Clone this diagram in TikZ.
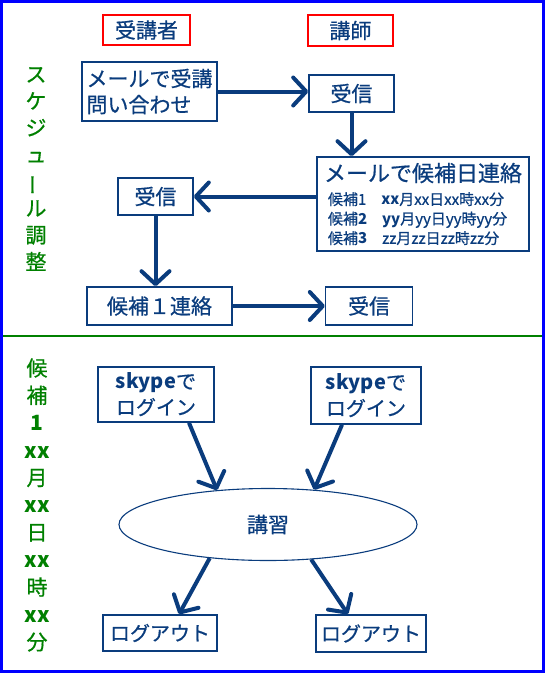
\documentclass[tikz,border=0pt]{standalone}
\usepackage{fontspec}
\setmainfont{Noto Sans CJK JP}[UprightFeatures={FakeBold=0.7}]
\usetikzlibrary{arrows.meta,shapes.geometric,positioning}
\definecolor{ink}{RGB}{10,60,125}
\definecolor{frameblue}{RGB}{0,0,255}
\definecolor{sidegreen}{RGB}{0,128,0}

\begin{document}
\begin{tikzpicture}[x=1pt,y=-1pt,
    >={Straight Barb[length=13pt,width=28pt,round]},
    flow/.style={->,draw=ink,line width=4pt},
    box/.style={draw=ink,line width=1.6pt,text=ink,inner sep=0pt,
      font=\fontsize{21}{26}\selectfont},
    role/.style={draw=red,line width=1.6pt,text=ink,inner sep=0pt,
      font=\fontsize{21}{26}\selectfont},
    side/.style={text=sidegreen,align=center,inner sep=0pt,
      font=\fontsize{21}{26.8}\selectfont}]
  \useasboundingbox (0,0) rectangle (545,673);
  \draw[frameblue,line width=3pt] (1.5,1.5) rectangle (543.5,671.5);
  \draw[sidegreen,line width=2pt] (3,336) -- (542,336);

  % upper half: schedule
  \node[role,minimum width=87pt,minimum height=30pt] (jukosha) at (146.5,30) {受講者};
  \node[role,minimum width=85pt,minimum height=31pt] (koshi) at (350.5,30.5) {講師};
  \node[side] (sched) at (36,169)
    {ス\\ケ\\ジ\\ュ\\\rotatebox[origin=c]{90}{ー}\\ル\\調\\整};
  \node[box,align=left,minimum width=135pt,minimum height=59pt] (toiawase)
    at (149.5,91.5) {メールで受講\\問い合わせ};
  \node[box,minimum width=85pt,minimum height=37pt] (jushinA) at (351.5,93.5) {受信};
  \node[box,align=left,minimum width=212pt,minimum height=94pt,
    font=\fontsize{15}{19.5}\selectfont] (renraku) at (423,204)
    {{\fontsize{22}{26}\selectfont メールで候補日連絡}\\[4pt]
     \hspace*{4pt}候補1\quad\textbf{xx}月xx日xx時xx分\\
     \hspace*{4pt}候補\textbf{2}\quad\textbf{yy}月yy日yy時yy分\\
     \hspace*{4pt}候補\textbf{3}\quad zz月zz日zz時zz分};
  \node[box,minimum width=75pt,minimum height=37pt] (jushinB) at (155.5,196.5) {受信};
  \node[box,minimum width=145pt,minimum height=38pt] (kouho) at (159.5,306) {候補１連絡};
  \node[box,minimum width=87pt,minimum height=38pt,right=92pt of kouho] (jushinC) {受信};

  \draw[flow] (toiawase.east) -- (toiawase.east -| jushinA.west);
  \draw[flow] (jushinA.south) -- (jushinA.south |- renraku.north);
  \draw[flow] (renraku.west |- jushinB.east) -- (jushinB.east);
  \draw[flow] (jushinB.south) -- (jushinB.south |- kouho.north);
  \draw[flow] (kouho.east) -- (jushinC.west);

  % lower half: lesson
  \node[side,font=\fontsize{21}{27.4}\selectfont] (nichiji) at (37,505)
    {候\\補\\\textbf{1}\\\textbf{xx}\\月\\\textbf{xx}\\日\\\textbf{xx}\\時\\\textbf{xx}\\分};
  \node[box,align=left,minimum width=116pt,minimum height=55pt,
    font=\fontsize{20}{26}\selectfont] (skypeA) at (156,394.5) {\textbf{skype}で\\ログイン};
  \node[box,align=left,minimum width=110pt,minimum height=57pt,
    font=\fontsize{20}{26}\selectfont] (skypeB) at (366,395.5) {\textbf{skype}で\\ログイン};
  \node[box,ellipse,line width=1.1pt,minimum width=298pt,minimum height=72pt]
    (koshu) at (268,524.5) {講習};
  \node[box,minimum width=114pt,minimum height=36pt,
    font=\fontsize{20}{24}\selectfont] (logoutA) at (160,633) {ログアウト};
  \node[box,minimum width=110pt,minimum height=37pt,
    font=\fontsize{20}{24}\selectfont] (logoutB) at (371,633.5) {ログアウト};

  \draw[flow] ([xshift=33pt]skypeA.south) -- (koshu.146);
  \draw[flow] ([xshift=-24pt]skypeB.south) -- (koshu.37);
  \draw[flow] (koshu.210) -- ([xshift=19pt]logoutA.north);
  \draw[flow] (koshu.-39) -- ([xshift=-23pt]logoutB.north);
\end{tikzpicture}
\end{document}
